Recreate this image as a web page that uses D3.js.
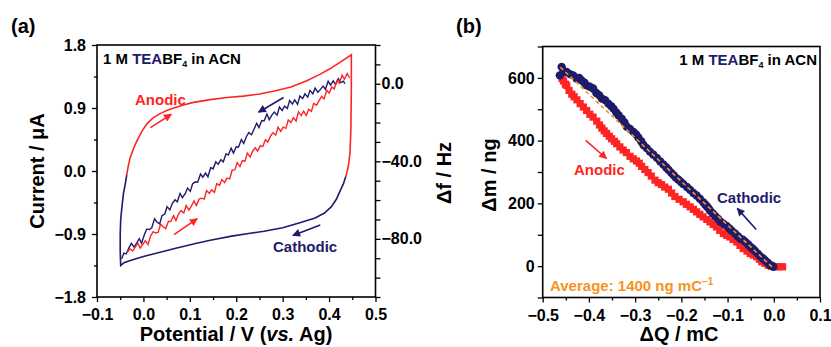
<!DOCTYPE html>
<html>
<head>
<meta charset="utf-8">
<script src="https://cdn.jsdelivr.net/npm/d3@7"></script>
<style>
  body { margin: 0; background: #fff; }
  svg { font-family: "Liberation Sans", Arial, sans-serif; font-weight: bold; }
</style>
</head>
<body>
<svg id="chart" width="831" height="347"></svg>
<script>
const RED = "#ff2424", NAVY = "#1e1b6b", ORANGE = "#f7941d";

// ---- panel (a): cyclic voltammogram (current) + frequency shift ----
const cvAnodic = [[-0.036,-0.06],[-0.033,0.06],[-0.029,0.18],[-0.022,0.31],[-0.014,0.43],[-0.004,0.56],
  [0.007,0.67],[0.020,0.755],[0.036,0.82],[0.054,0.875],[0.072,0.915],[0.090,0.95],[0.108,0.98],[0.144,1.02],
  [0.180,1.05],[0.215,1.07],[0.250,1.10],[0.280,1.14],[0.318,1.20],[0.352,1.29],[0.380,1.38],[0.402,1.46],
  [0.425,1.56],[0.448,1.66],[0.448,1.20],[0.447,0.60],[0.445,0.25],[0.441,0.05],[0.436,-0.08]];
const cvCathodic = [[0.436,-0.08],[0.431,-0.18],[0.424,-0.28],[0.416,-0.40],[0.405,-0.51],[0.390,-0.60],
  [0.370,-0.67],[0.337,-0.74],[0.300,-0.81],[0.260,-0.86],[0.230,-0.89],[0.190,-0.93],[0.144,-0.99],
  [0.110,-1.04],[0.072,-1.10],[0.036,-1.16],[0.000,-1.22],[-0.025,-1.27],[-0.042,-1.31],[-0.049,-1.35],
  [-0.050,-1.15],[-0.050,-0.90],[-0.049,-0.70],[-0.047,-0.56],[-0.043,-0.32],[-0.039,-0.18],[-0.036,-0.06]];
// frequency shift (right axis, Hz)
const dfAnodic = [[-0.034,-86.7],[-0.029,-85.1],[-0.023,-86.3],[-0.018,-84.4],[-0.012,-82.2],[-0.007,-84.8],
  [-0.001,-82.7],[0.004,-81.0],[0.010,-82.9],[0.015,-78.8],[0.021,-76.3],[0.026,-77.0],[0.032,-76.6],
  [0.037,-72.4],[0.043,-73.9],[0.048,-74.7],[0.054,-70.9],[0.059,-71.1],[0.065,-68.0],[0.070,-70.5],
  [0.076,-67.0],[0.081,-65.4],[0.087,-66.7],[0.092,-62.8],[0.098,-65.2],[0.103,-63.3],[0.109,-60.4],
  [0.114,-62.8],[0.120,-59.5],[0.125,-59.0],[0.131,-59.5],[0.136,-55.1],[0.142,-56.5],[0.147,-54.7],
  [0.153,-56.1],[0.158,-51.5],[0.164,-52.4],[0.169,-49.4],[0.175,-51.0],[0.180,-48.7],[0.186,-49.1],
  [0.191,-44.6],[0.197,-44.4],[0.202,-40.6],[0.208,-42.7],[0.213,-39.7],[0.219,-39.8],[0.224,-35.8],
  [0.230,-37.8],[0.235,-34.9],[0.241,-33.0],[0.246,-34.7],[0.252,-31.9],[0.257,-32.4],[0.263,-28.9],
  [0.268,-30.1],[0.274,-26.9],[0.279,-25.3],[0.285,-26.5],[0.290,-22.4],[0.296,-24.6],[0.301,-22.4],
  [0.307,-23.0],[0.312,-18.7],[0.318,-19.9],[0.323,-17.5],[0.329,-19.2],[0.334,-14.5],[0.340,-16.4],
  [0.345,-14.1],[0.351,-16.3],[0.356,-13.2],[0.362,-14.2],[0.367,-10.1],[0.373,-11.1],[0.378,-8.8],
  [0.384,-6.5],[0.389,-7.8],[0.395,-3.3],[0.400,-4.8],[0.406,-1.6],[0.411,-2.7],[0.417,1.6],[0.422,0.3],
  [0.428,4.4],[0.433,2.3],[0.439,5.3],[0.444,3.0]];
const dfCathodic = [[-0.047,-90.3],[-0.042,-87.4],[-0.037,-87.8],[-0.031,-84.5],[-0.026,-82.3],[-0.020,-84.3],
  [-0.015,-82.3],[-0.009,-79.9],[-0.004,-82.2],[0.002,-77.9],[0.007,-75.0],[0.013,-75.2],[0.018,-74.3],
  [0.024,-69.7],[0.029,-71.3],[0.035,-72.3],[0.040,-68.1],[0.046,-67.2],[0.051,-63.4],[0.057,-65.1],
  [0.062,-61.8],[0.068,-59.9],[0.073,-60.9],[0.079,-56.6],[0.084,-58.8],[0.090,-56.7],[0.095,-53.8],
  [0.101,-55.5],[0.106,-51.6],[0.112,-50.6],[0.117,-50.8],[0.123,-46.6],[0.128,-48.2],[0.134,-46.1],
  [0.139,-48.0],[0.145,-43.2],[0.150,-43.9],[0.156,-40.3],[0.161,-41.6],[0.167,-39.1],[0.172,-40.3],
  [0.178,-36.1],[0.183,-36.8],[0.189,-33.2],[0.194,-35.7],[0.200,-32.5],[0.205,-32.6],[0.211,-28.8],
  [0.216,-30.8],[0.222,-27.2],[0.227,-25.2],[0.233,-26.3],[0.238,-23.6],[0.244,-20.4],[0.249,-22.6],
  [0.255,-19.0],[0.260,-19.2],[0.266,-15.6],[0.271,-18.5],[0.277,-16.0],[0.282,-14.6],[0.288,-16.2],
  [0.293,-12.0],[0.299,-13.8],[0.304,-11.5],[0.310,-12.8],[0.315,-8.6],[0.321,-10.4],[0.326,-8.3],
  [0.332,-10.6],[0.337,-6.3],[0.343,-7.6],[0.348,-5.2],[0.354,-6.9],[0.359,-3.4],[0.365,-5.2],
  [0.370,-2.2],[0.376,-4.4],[0.381,-3.0],[0.387,-1.2],[0.392,-2.8],[0.398,1.3],[0.403,-0.7],[0.409,1.5],
  [0.414,-0.4],[0.420,2.6],[0.425,0.6],[0.431,1.3],[0.434,0.0]];
const aXTicks = [-0.1, 0.0, 0.1, 0.2, 0.3, 0.4, 0.5];
const aYTicks = [-1.8, -0.9, 0.0, 0.9, 1.8];
const aY2Labels = [0, -40, -80];

// ---- panel (b): mass change vs charge ----
const dmCathodic = [[-0.459,635],[-0.463,608],[-0.455,622],[-0.448,619],[-0.441,612],[-0.434,608],[-0.427,598],
  [-0.421,600],[-0.416,592],[-0.410,585],[-0.405,576],[-0.398,572],[-0.391,566],[-0.384,552],[-0.378,545],
  [-0.372,534],[-0.365,529],[-0.358,518],[-0.352,510],[-0.347,502],[-0.341,490],[-0.336,481],[-0.329,470],
  [-0.323,458],[-0.318,444],[-0.311,437],[-0.304,428],[-0.298,420],[-0.293,410],[-0.287,398],[-0.282,386],
  [-0.275,376],[-0.268,365],[-0.261,356],[-0.253,345],[-0.246,334],[-0.239,324],[-0.233,315],[-0.228,307],
  [-0.222,298],[-0.217,290],[-0.212,282],[-0.207,276],[-0.201,268],[-0.196,262],[-0.188,252],[-0.181,243],
  [-0.174,233],[-0.167,225],[-0.160,215],[-0.153,204],[-0.149,197],[-0.145,191],[-0.141,184],[-0.138,177],
  [-0.132,168],[-0.127,160],[-0.121,151],[-0.116,142],[-0.109,135],[-0.102,128],[-0.096,120],[-0.091,113],
  [-0.084,104],[-0.078,95],[-0.073,88],[-0.067,84],[-0.062,78],[-0.056,70],[-0.051,62],[-0.046,56],
  [-0.041,49],[-0.035,40],[-0.030,32],[-0.024,25],[-0.019,19],[-0.013,11],[-0.008,3],[-0.004,1],[-0.001,-2]];
const dmAnodic = [[-0.458,598],[-0.455,590],[-0.451,580],[-0.448,576],[-0.443,560],[-0.437,548],[-0.432,540],
  [-0.426,530],[-0.419,518],[-0.412,507],[-0.405,496],[-0.398,484],[-0.391,475],[-0.383,462],[-0.377,450],
  [-0.372,440],[-0.367,431],[-0.362,423],[-0.356,414],[-0.351,406],[-0.345,398],[-0.340,390],[-0.333,380],
  [-0.326,370],[-0.319,362],[-0.311,350],[-0.304,342],[-0.297,335],[-0.291,328],[-0.286,318],[-0.279,308],
  [-0.272,298],[-0.265,287],[-0.257,274],[-0.250,266],[-0.243,260],[-0.236,252],[-0.228,245],[-0.221,233],
  [-0.214,222],[-0.205,213],[-0.196,205],[-0.189,197],[-0.181,189],[-0.174,181],[-0.167,173],[-0.160,165],
  [-0.153,157],[-0.145,149],[-0.138,141],[-0.131,133],[-0.124,125],[-0.117,114],[-0.109,104],[-0.102,98],
  [-0.095,93],[-0.088,85],[-0.080,77],[-0.073,66],[-0.066,56],[-0.058,48],[-0.051,40],[-0.044,35],
  [-0.037,30],[-0.031,22],[-0.026,14],[-0.019,9],[-0.012,3],[-0.005,0],[0.003,-2],[0.011,-2],[0.019,-2]];
const dmFit = [[-0.462,634],[0.0,-8]];
const bXTicks = [-0.5, -0.4, -0.3, -0.2, -0.1, 0.0, 0.1];
const bYTicks = [0, 200, 400, 600];

const svg = d3.select("#chart");
const fmt1 = d3.format(".1f");

// arrowheads
const defs = svg.append("defs");
[["arrRed", RED], ["arrNavy", NAVY]].forEach(([id, c]) => {
  defs.append("marker").attr("id", id)
    .attr("viewBox", "0 0 10 10").attr("refX", 9).attr("refY", 5)
    .attr("markerUnits", "userSpaceOnUse").attr("markerWidth", 9).attr("markerHeight", 8)
    .attr("orient", "auto")
    .append("path").attr("d", "M0,0 L10,5 L0,10 Z").attr("fill", c);
});

function styleAxis(g, size) {
  g.attr("font-family", null).attr("font-size", size);
  g.selectAll("path.domain").remove();
  g.selectAll("line").attr("stroke", "#000").attr("stroke-width", 1.3);
}

function minorTicks(g, axisFn, scale, values, size) {
  g.append("g")
    .attr("transform", axisFn.t)
    .call(axisFn.f(scale).tickValues(values).tickSize(size).tickFormat(""))
    .call(a => styleAxis(a, 10));
}

function frame(x, y) {
  svg.append("rect")
    .attr("x", x.range()[0]).attr("y", y.range()[1])
    .attr("width", x.range()[1] - x.range()[0])
    .attr("height", y.range()[0] - y.range()[1])
    .attr("fill", "none").attr("stroke", "#000").attr("stroke-width", 1.6);
}

function arrow(x, y, from, to, id, c) {
  svg.append("line")
    .attr("x1", x(from[0])).attr("y1", y(from[1]))
    .attr("x2", x(to[0])).attr("y2", y(to[1]))
    .attr("stroke", c).attr("stroke-width", 1.6)
    .attr("marker-end", `url(#${id})`);
}

function label(txt, x, y, c, size, anchor) {
  return svg.append("text").attr("x", x).attr("y", y)
    .attr("fill", c).attr("font-size", size)
    .attr("text-anchor", anchor || "start").text(txt);
}

function electrolyte(x, y, anchor) {
  const t = svg.append("text").attr("x", x).attr("y", y)
    .attr("font-size", 15).attr("text-anchor", anchor);
  t.append("tspan").text("1 M ");
  t.append("tspan").attr("fill", NAVY).text("TEA");
  t.append("tspan").text("BF");
  t.append("tspan").attr("font-size", 9).attr("dy", 3).text("4");
  t.append("tspan").attr("dy", -3).text(" in ACN");
}

// ================= panel (a) =================
const xA = d3.scaleLinear().domain([-0.1, 0.5]).range([97, 375.5]);
const yA = d3.scaleLinear().domain([-1.8, 1.8]).range([297, 45]);
const yA2 = d3.scaleLinear().domain([-110, 20]).range([297, 45]);

svg.append("g").attr("transform", "translate(0,297)")
  .call(d3.axisBottom(xA).tickValues(aXTicks).tickFormat(fmt1).tickSize(5).tickPadding(7))
  .call(g => styleAxis(g, 16));
minorTicks(svg, { t: "translate(0,297)", f: d3.axisBottom }, xA, d3.range(-0.05, 0.5, 0.1), 3);

svg.append("g").attr("transform", "translate(97,0)")
  .call(d3.axisLeft(yA).tickValues(aYTicks).tickFormat(fmt1).tickSize(5).tickPadding(6))
  .call(g => styleAxis(g, 16));
minorTicks(svg, { t: "translate(97,0)", f: d3.axisLeft }, yA, [-1.35, -0.45, 0.45, 1.35], 3);

svg.append("g").attr("transform", "translate(375.5,0)")
  .call(d3.axisRight(yA2).tickValues(d3.range(-110, 21, 10)).tickSize(5).tickPadding(1)
    .tickFormat(d => aY2Labels.includes(d) ? fmt1(d) : ""))
  .call(g => styleAxis(g, 16));

const lineA = d3.line().x(d => xA(d[0])).y(d => yA(d[1]));
const lineA2 = d3.line().x(d => xA(d[0])).y(d => yA2(d[1]));

svg.append("path").attr("d", lineA(cvAnodic)).attr("fill", "none").attr("stroke", RED).attr("stroke-width", 1.6);
svg.append("path").attr("d", lineA(cvCathodic)).attr("fill", "none").attr("stroke", NAVY).attr("stroke-width", 1.6);
svg.append("path").attr("d", lineA2(dfCathodic)).attr("fill", "none").attr("stroke", NAVY).attr("stroke-width", 1.4);
svg.append("path").attr("d", lineA2(dfAnodic)).attr("fill", "none").attr("stroke", RED).attr("stroke-width", 1.4);

frame(xA, yA);

arrow(xA, yA, [0.015, 0.62], [0.060, 0.81], "arrRed", RED);
arrow(xA, yA, [0.066, -0.91], [0.116, -0.68], "arrRed", RED);
arrow(xA, yA, [0.302, 1.05], [0.248, 0.84], "arrNavy", NAVY);
arrow(xA, yA, [0.381, -0.77], [0.322, -0.92], "arrNavy", NAVY);

label("Anodic", 135, 105, RED, 15);
label("Cathodic", 273, 252, NAVY, 15);
electrolyte(103, 64, "start");

label("(a)", 11, 33, "#000", 20);
label("Current / μA", 0, 0, "#000", 20, "middle")
  .attr("transform", "translate(44,171) rotate(-90)");
label("Δf / Hz", 0, 0, "#000", 20, "middle")
  .attr("transform", "translate(451,173) rotate(-90)");
const pt = label("Potential / V (", 236, 341, "#000", 20, "middle");
pt.append("tspan").attr("font-style", "italic").text("vs.");
pt.append("tspan").text(" Ag)");

// ================= panel (b) =================
const xB = d3.scaleLinear().domain([-0.5, 0.1]).range([542.7, 820]);
const yB = d3.scaleLinear().domain([-100, 700]).range([297.5, 46.5]);

svg.append("g").attr("transform", "translate(0,297.5)")
  .call(d3.axisBottom(xB).tickValues(bXTicks).tickFormat(fmt1).tickSize(5).tickPadding(7))
  .call(g => styleAxis(g, 16));
minorTicks(svg, { t: "translate(0,297.5)", f: d3.axisBottom }, xB, d3.range(-0.45, 0.1, 0.1), 3);

svg.append("g").attr("transform", "translate(542.7,0)")
  .call(d3.axisLeft(yB).tickValues(bYTicks).tickFormat(d3.format("d")).tickSize(5).tickPadding(3))
  .call(g => styleAxis(g, 16));
minorTicks(svg, { t: "translate(542.7,0)", f: d3.axisLeft }, yB, [-100, 100, 300, 500, 700], 5);

svg.append("g").selectAll("rect").data(dmAnodic).join("rect")
  .attr("x", d => xB(d[0]) - 3.6).attr("y", d => yB(d[1]) - 3.6)
  .attr("width", 7.2).attr("height", 7.2).attr("fill", RED);
svg.append("g").selectAll("circle").data(dmCathodic).join("circle")
  .attr("cx", d => xB(d[0])).attr("cy", d => yB(d[1])).attr("r", 4.2).attr("fill", NAVY);
svg.append("path")
  .attr("d", d3.line().x(d => xB(d[0])).y(d => yB(d[1]))(dmFit))
  .attr("fill", "none").attr("stroke", ORANGE).attr("stroke-width", 1.6)
  .attr("stroke-dasharray", "4,3");

frame(xB, yB);

arrow(xB, yB, [-0.407, 401], [-0.362, 343], "arrRed", RED);
arrow(xB, yB, [-0.038, 117], [-0.079, 184], "arrNavy", NAVY);

label("Anodic", 574, 175, RED, 15);
label("Cathodic", 717, 203, NAVY, 15);
electrolyte(817, 65, "end");
const avg = label("Average: 1400 ng mC", 550, 291, ORANGE, 15);
avg.append("tspan").attr("font-size", 10).attr("dy", -6).text("−1");

label("(b)", 456, 33, "#000", 20);
label("Δm / ng", 0, 0, "#000", 20, "middle")
  .attr("transform", "translate(496,175) rotate(-90)");
label("ΔQ / mC", 679, 341, "#000", 20, "middle");
</script>
</body>
</html>
